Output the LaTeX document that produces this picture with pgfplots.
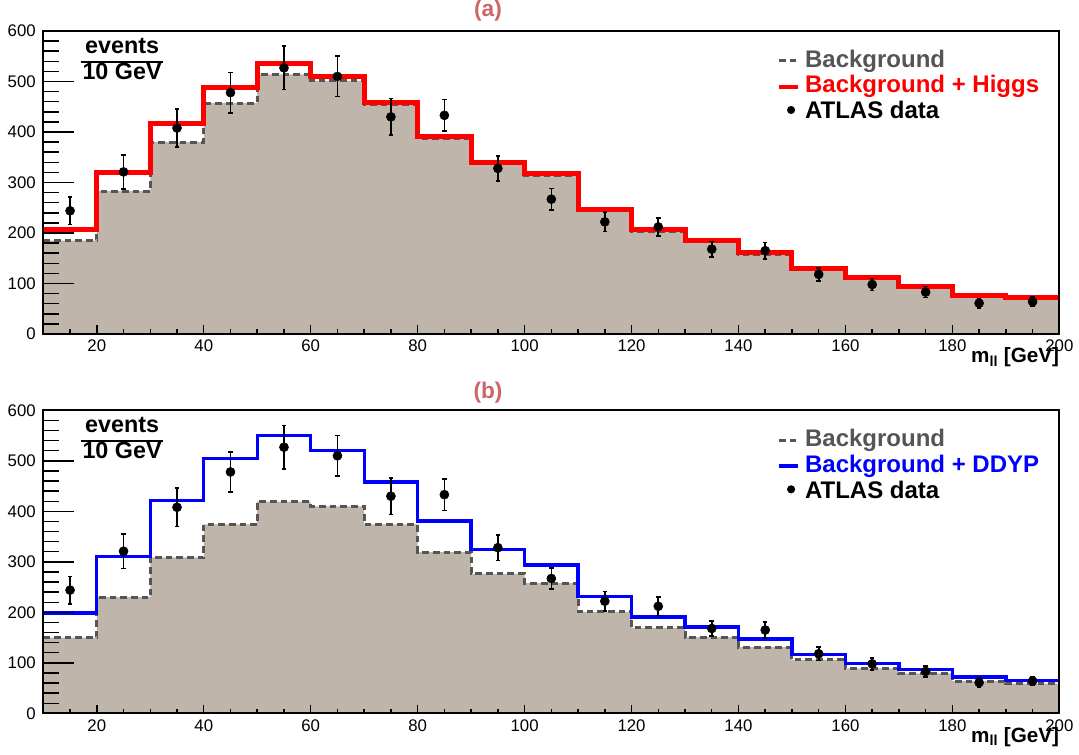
\documentclass[border=0pt]{standalone}
\usepackage{pgfplots}
\pgfplotsset{compat=1.18}
\usepackage{fontspec}
\setmainfont{Liberation Sans}

\definecolor{bgfill}{RGB}{191,181,171}
\definecolor{bgline}{RGB}{85,85,85}
\definecolor{panel}{RGB}{204,102,102}

\pgfplotsset{
  panel/.style={
    scale only axis, width=762pt, height=227.25pt,
    xmin=10, xmax=200, ymin=0, ymax=600,
    axis on top,
    xtick={20,40,...,200}, minor xtick={10,15,...,200},
    ytick={0,100,...,600}, minor ytick={0,20,...,600},
    tick pos=left, tick align=inside,
    xtick style={/pgfplots/major tick length=6.5pt, /pgfplots/minor tick length=3.5pt, line width=1.1pt, black},
    ytick style={/pgfplots/major tick length=23pt, /pgfplots/minor tick length=12pt, line width=1.1pt, black},
    axis line style={line width=1.5pt},
    every axis title shift=0pt,
    /pgf/number format/assume math mode=true,
    ticklabel style={font=\fontsize{12.6}{14}\selectfont},
    xticklabel style={inner sep=0pt, yshift=-4.5pt},
    yticklabel style={inner sep=0pt, xshift=-5.5pt},
    xlabel={\textbf{m\textsubscript{ll} [GeV]}},
    xlabel style={at={(rel axis cs:1,0)}, anchor=base east, yshift=-21.5pt, inner sep=0pt, font=\fontsize{15.5}{18}\selectfont},
    legend style={at={(0.7222,0.9393)}, anchor=north west, draw=none, fill=none,
      inner sep=0pt, outer sep=0pt, row sep=2.1pt, column sep=4pt,
      nodes={inner sep=0pt, text height=13.3pt, text depth=4pt},
      font=\bfseries\fontsize{18}{21}\selectfont},
    legend cell align=left,
  },
  bgfillst/.style={forget plot, const plot, fill=bgfill, draw=none},
  bgdash/.style={forget plot, const plot, bgline, line width=2.25pt, dash pattern=on 5pt off 3pt},
  atlas/.style={forget plot, only marks, mark=*, mark size=3.4pt, black,
    error bars/.cd, y dir=both, y explicit,
    error bar style={line width=1.2pt, black},
    error mark options={rotate=90, mark size=1.7pt, line width=1.2pt}},
}

\newcommand{\evlabel}{%
  \node[anchor=north, inner sep=0pt, font=\bfseries\fontsize{17.5}{18}\selectfont]
    at (rel axis cs:0.0775,0.982)
    {\setlength{\arrayrulewidth}{1.6pt}\begin{tabular}{@{\kern1pt}c@{\kern1pt}}events\\\hline 10 GeV\end{tabular}};}

\newcommand{\atlasdata}{%
  \addplot[atlas] coordinates {
    (15,244) +- (0,27) (25,321) +- (0,34) (35,408) +- (0,38) (45,478) +- (0,40)
    (55,527) +- (0,43) (65,510) +- (0,40) (75,430) +- (0,36) (85,433) +- (0,31)
    (95,328) +- (0,25) (105,267) +- (0,21) (115,222) +- (0,19) (125,212) +- (0,18)
    (135,168) +- (0,15) (145,165) +- (0,16) (155,118) +- (0,13) (165,98) +- (0,12)
    (175,83) +- (0,11) (185,61) +- (0,9) (195,64) +- (0,9)
  };}

\begin{document}
\begin{tikzpicture}
\useasboundingbox (0,0) rectangle (809.25pt,565.5pt);

% (a) background + Higgs
\begin{axis}[panel, at={(32.5pt,315pt)}, anchor=south west,
  title={\textbf{(a)}},
  title style={at={(0.4377,1)}, anchor=base, yshift=11.2pt, inner sep=0pt,
    font=\fontsize{17}{19}\selectfont, text=panel}]
\addplot[bgfillst] coordinates {
  (10,185)(20,283)(30,380)(40,457)(50,514)(60,501)(70,455)(80,388)(90,337)(100,313)
  (110,244)(120,203)(130,183)(140,158)(150,127)(160,109)(170,94)(180,76)(190,71)(200,71)
} \closedcycle;
\addplot[bgdash] coordinates {
  (10,185)(20,283)(30,380)(40,457)(50,514)(60,501)(70,455)(80,388)(90,337)(100,313)
  (110,244)(120,203)(130,183)(140,158)(150,127)(160,109)(170,94)(180,76)(190,71)(200,71)
};
\addplot[forget plot, const plot, red, line width=3.75pt] coordinates {
  (10,207)(20,320)(30,416)(40,489)(50,535)(60,510)(70,459)(80,391)(90,340)(100,317)
  (110,247)(120,206)(130,186)(140,161)(150,129)(160,111)(170,95)(180,77)(190,73)(200,73)
};
\atlasdata
\addlegendimage{legend image code/.code={\draw[bgline, line width=2.25pt, dash pattern=on 5pt off 3pt] (0pt,0pt) -- (14pt,0pt);}}
\addlegendentry{\textcolor{bgline}{Background}}
\addlegendimage{legend image code/.code={\draw[red, line width=3pt] (0pt,0pt) -- (14pt,0pt);}}
\addlegendentry{\textcolor{red}{Background + Higgs}}
\addlegendimage{legend image code/.code={\fill[black] (9pt,2pt) circle (2.8pt);}}
\addlegendentry{ATLAS data}
\evlabel
\end{axis}

% (b) background + DDYP
\begin{axis}[panel, at={(32.5pt,30.5pt)}, anchor=south west,
  title={\textbf{(b)}},
  title style={at={(0.4377,1)}, anchor=base, yshift=9pt, inner sep=0pt,
    font=\fontsize{17}{19}\selectfont, text=panel}]
\addplot[bgfillst] coordinates {
  (10,150)(20,230)(30,309)(40,374)(50,419)(60,410)(70,374)(80,319)(90,276)(100,258)
  (110,201)(120,169)(130,151)(140,131)(150,106)(160,89)(170,79)(180,64)(190,59)(200,59)
} \closedcycle;
\addplot[bgdash] coordinates {
  (10,150)(20,230)(30,309)(40,374)(50,419)(60,410)(70,374)(80,319)(90,276)(100,258)
  (110,201)(120,169)(130,151)(140,131)(150,106)(160,89)(170,79)(180,64)(190,59)(200,59)
};
\addplot[forget plot, const plot, blue, line width=2.5pt] coordinates {
  (10,199)(20,311)(30,421)(40,504)(50,550)(60,520)(70,458)(80,381)(90,324)(100,294)
  (110,231)(120,191)(130,171)(140,147)(150,117)(160,99)(170,87)(180,72)(190,65)(200,65)
};
\atlasdata
\addlegendimage{legend image code/.code={\draw[bgline, line width=2.25pt, dash pattern=on 5pt off 3pt] (0pt,0pt) -- (14pt,0pt);}}
\addlegendentry{\textcolor{bgline}{Background}}
\addlegendimage{legend image code/.code={\draw[blue, line width=3pt] (0pt,0pt) -- (14pt,0pt);}}
\addlegendentry{\textcolor{blue}{Background + DDYP}}
\addlegendimage{legend image code/.code={\fill[black] (9pt,2pt) circle (2.8pt);}}
\addlegendentry{ATLAS data}
\evlabel
\end{axis}
\end{tikzpicture}
\end{document}
